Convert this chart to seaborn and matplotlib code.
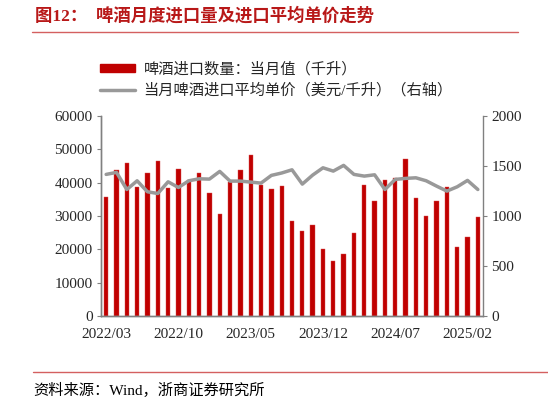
import matplotlib
matplotlib.use('Agg')
import matplotlib.pyplot as plt
import seaborn as sns
import pandas as pd
from matplotlib.lines import Line2D
from matplotlib.patches import Patch

# 月份：2022/03 - 2025/03
months = pd.period_range('2022-03', '2025-03', freq='M').strftime('%Y/%m').tolist()

# 啤酒进口数量：当月值（千升）
volume = [35700, 43800, 46000, 38600, 43000, 46500, 38300, 44100, 40800, 43000,
          36800, 30600, 40300, 43800, 48300, 39300, 38000, 39100, 28500, 25600,
          27300, 20000, 16400, 18500, 24900, 39400, 34500, 40900, 41400, 47000,
          35400, 30000, 34500, 38700, 20800, 23700, 29700]

# 当月啤酒进口平均单价（美元/千升）
price = [1416, 1436, 1265, 1352, 1242, 1225, 1342, 1285, 1352, 1372,
         1369, 1446, 1349, 1349, 1339, 1329, 1406, 1430, 1462, 1319,
         1409, 1482, 1449, 1506, 1416, 1399, 1412, 1265, 1366, 1376,
         1382, 1352, 1299, 1249, 1292, 1356, 1265]

label_step = 7
bar_color = '#C00000'
line_color = '#999999'
axis_color = '#808080'
serif_cjk = ['Liberation Serif', 'Noto Sans CJK SC']

sns.set_style('white')
plt.rcParams['font.family'] = serif_cjk

df = pd.DataFrame({'month': months, 'volume': volume, 'price': price})
df['pos'] = range(len(df))

fig = plt.figure(figsize=(5.48, 4.03), dpi=100)
ax = fig.add_axes([101 / 548, 1 - 316 / 403, 382 / 548, 200 / 403])

sns.barplot(data=df, x='month', y='volume', color=bar_color, width=0.42,
            saturation=1, ax=ax, edgecolor='#D85050', linewidth=0.3)
ax.set_ylim(0, 60000)
ax.set_yticks(range(0, 60001, 10000))
ax.set_xlim(-0.5, len(df) - 0.5)

ax2 = ax.twinx()
sns.lineplot(data=df, x='pos', y='price', color=line_color, linewidth=2.5,
             ax=ax2, solid_joinstyle='round', solid_capstyle='round')
ax2.set_ylim(0, 2000)
ax2.set_yticks(range(0, 2001, 500))
ax2.set_xlim(-0.5, len(df) - 0.5)

# 刻度在分类边界，标签在分类中心
label_pos = list(range(0, len(df), label_step))
ax.set_xticks([p - 0.5 for p in label_pos])
ax.set_xticklabels([])
ax.set_xticks(label_pos, minor=True)
ax.set_xticklabels([months[p] for p in label_pos], minor=True)
ax.tick_params(axis='x', which='minor', length=0, pad=9, labelsize=11)
ax.tick_params(axis='x', which='major', length=4, direction='out', color=axis_color)
ax.tick_params(axis='y', length=3, direction='out', color=axis_color, labelsize=11, pad=3)
ax2.tick_params(axis='y', length=3, direction='out', color=axis_color, labelsize=11, pad=3)

for a in (ax, ax2):
    a.set_xlabel('')
    a.set_ylabel('')
    a.grid(False)
    for side in ('left', 'bottom', 'right'):
        a.spines[side].set_color(axis_color)
        a.spines[side].set_linewidth(1.0)
    a.spines['top'].set_visible(False)
ax.spines['right'].set_visible(False)

# 图例
handles = [Patch(facecolor=bar_color, edgecolor=bar_color),
           Line2D([0], [0], color=line_color, linewidth=2.5)]
labels = ['啤酒进口数量：当月值（千升）', '当月啤酒进口平均单价（美元/千升）（右轴）']
fig.legend(handles, labels, loc='upper left', bbox_to_anchor=(100 / 548, 1 - 62 / 403),
           frameon=False, fontsize=11, handlelength=2.3, handleheight=0.45,
           handletextpad=0.55, labelspacing=0.4, borderaxespad=0, borderpad=0)

# 标题与来源
fig.text(35 / 548, 1 - 16 / 403, '图12：  啤酒月度进口量及进口平均单价走势',
         fontsize=12.5, fontweight='bold', color='#B81818', va='center', ha='left')
fig.add_artist(Line2D([32 / 548, 518 / 548], [1 - 32 / 403, 1 - 32 / 403],
                      color='#D46060', linewidth=1.0))
fig.add_artist(Line2D([33 / 548, 1], [1 - 372 / 403, 1 - 372 / 403],
                      color='#D46060', linewidth=1.0))
fig.text(33 / 548, 1 - 390 / 403, '资料来源：Wind，浙商证券研究所',
         fontsize=11, color='#000000', va='center', ha='left')

fig.savefig('out.png', dpi=100)
